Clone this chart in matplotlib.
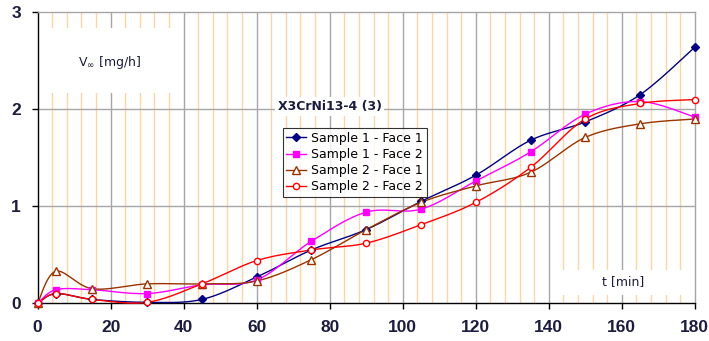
import numpy as np
import matplotlib.pyplot as plt
from matplotlib.patches import Rectangle
from matplotlib.lines import Line2D

# time points [min]
t = [0, 5, 15, 30, 45, 60, 75, 90, 105, 120, 135, 150, 165, 180]

# wear rate values [mg/h]
s1_face1 = [0, 0.10, 0.04, 0.01, 0.04, 0.27, 0.55, 0.76, 1.05, 1.32, 1.68, 1.87, 2.15, 2.64]
s1_face2 = [0, 0.14, 0.14, 0.10, 0.19, 0.24, 0.64, 0.94, 0.97, 1.26, 1.56, 1.95, 2.08, 1.92]
s2_face1 = [0, 0.33, 0.15, 0.20, 0.20, 0.23, 0.45, 0.76, 1.04, 1.21, 1.35, 1.71, 1.85, 1.90]
s2_face2 = [0, 0.10, 0.04, 0.01, 0.20, 0.44, 0.55, 0.62, 0.81, 1.04, 1.40, 1.90, 2.06, 2.10]

labels = ['Sample 1 - Face 1', 'Sample 1 - Face 2', 'Sample 2 - Face 1', 'Sample 2 - Face 2']
x_ticks = [0, 20, 40, 60, 80, 100, 120, 140, 160, 180]
y_ticks = [0, 1, 2, 3]

TXT = '#1c1c40'


def smooth(x, y, n=24):
    # Excel-style smoothed line: cubic Bezier through each pair of points
    pts = np.column_stack([x, y]).astype(float)
    P = np.vstack([pts[0], pts, pts[-1]])
    out = []
    for i in range(1, len(P) - 2):
        p0, p1, p2, p3 = P[i - 1], P[i], P[i + 1], P[i + 2]
        c1 = p1 + (p2 - p0) / 6
        c2 = p2 - (p3 - p1) / 6
        s = np.linspace(0, 1, n)[:, None]
        seg = (1 - s)**3 * p1 + 3 * (1 - s)**2 * s * c1 + 3 * (1 - s) * s**2 * c2 + s**3 * p2
        out.append(seg)
    c = np.vstack(out)
    return c[:, 0], c[:, 1]


fig = plt.figure(figsize=(7.09, 3.41), dpi=100)
ax = fig.add_axes([0.053, 0.1106, 0.927, 0.8534])
ax.set_xlim(0, 180)
ax.set_ylim(0, 3)

# grid: light orange minor lines every 4 min, grey majors
minor = [m for m in range(4, 180, 4) if m % 20 != 0]
ax.vlines(minor, 0, 3, color='#ffd3a8', lw=1.0, zorder=0.5)
ax.vlines(x_ticks[1:-1], 0, 3, color='#a6a6a6', lw=1.0, zorder=0.6)
ax.hlines([1, 2], 0, 180, color='#a6a6a6', lw=1.0, zorder=0.6)

# white boxes behind the text labels
ax.add_patch(Rectangle((0.3, 2.17), 39.5, 0.67, facecolor='white', edgecolor='none', zorder=1))
ax.add_patch(Rectangle((141, 0.085), 38.8, 0.26, facecolor='white', edgecolor='none', zorder=1))

series = [s1_face1, s1_face2, s2_face1, s2_face2]
colors = ['#000080', '#ff00ff', '#993300', '#ff0000']
markers = ['D', 's', '^', 'o']
msizes = [4, 5, 5.5, 4.5]
faces = ['#000080', '#ff00ff', 'white', 'white']

handles = []
for vals, col, mk, ms, fc, lab in zip(series, colors, markers, msizes, faces, labels):
    xs, ys = smooth(t, vals)
    ax.plot(xs, ys, color=col, lw=1.0, zorder=3, clip_on=False)
    ax.plot(t, vals, ls='none', marker=mk, ms=ms, mfc=fc, mec=col, mew=1.0,
            zorder=4, clip_on=False)
    handles.append(Line2D([], [], color=col, lw=1.0, marker=mk, ms=ms, mfc=fc, mec=col))

ax.set_xticks(x_ticks)
ax.set_yticks(y_ticks)
ax.tick_params(direction='out', length=4, width=1, color='black', pad=8,
               labelsize=12.5, labelcolor=TXT)
for lbl in ax.get_xticklabels() + ax.get_yticklabels():
    lbl.set_fontfamily('Liberation Sans')
    lbl.set_fontweight('bold')

ax.spines['left'].set_color('black')
ax.spines['bottom'].set_color('black')
ax.spines['top'].set_color('#a6a6a6')
ax.spines['right'].set_color('#a6a6a6')
for sp in ax.spines.values():
    sp.set_linewidth(1.0)

ax.text(19.8, 2.48, r'V$_\infty$ [mg/h]', ha='center', va='center', fontsize=9,
        color=TXT, zorder=2)
ax.text(160.3, 0.22, 't [min]', ha='center', va='center', fontsize=9, color=TXT, zorder=2)
ax.text(80, 2.03, 'X3CrNi13-4 (3)', ha='center', va='center', fontsize=9,
        fontweight='bold', color=TXT, zorder=2,
        bbox=dict(facecolor='white', edgecolor='none', pad=2))

leg = ax.legend(handles, labels, loc='upper left', bbox_to_anchor=(0.373, 0.602),
                borderaxespad=0, fontsize=9, frameon=True, fancybox=False,
                handlelength=1.6, handletextpad=0.4, labelspacing=0.25,
                borderpad=0.3)
leg.get_frame().set_edgecolor('black')
leg.get_frame().set_linewidth(0.8)
leg.set_zorder(5)

plt.savefig('out.png', dpi=100)
